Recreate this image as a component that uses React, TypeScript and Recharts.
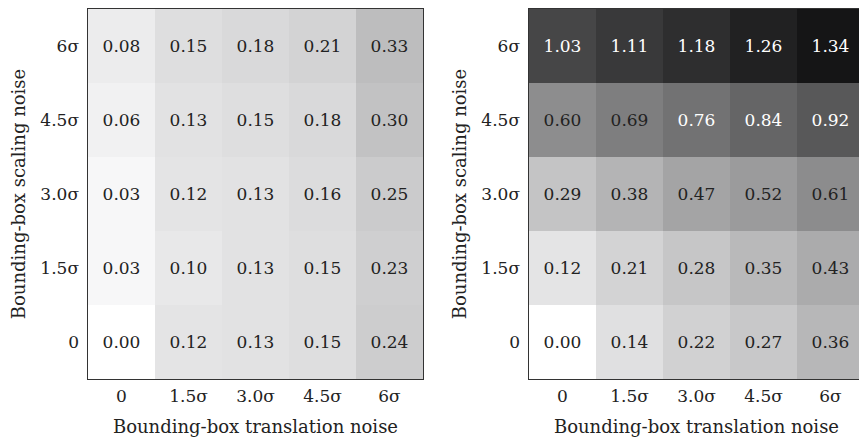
import { Bar, BarChart, Cell, LabelList, ReferenceArea, XAxis, YAxis } from 'recharts';

// noise levels (column = translation, row = scaling, bottom to top)
const translationLabels = ['0', '1.5σ', '3.0σ', '4.5σ', '6σ'];
const scalingLabels = ['0', '1.5σ', '3.0σ', '4.5σ', '6σ'];

// left panel
const leftScale0 = [0.0, 0.12, 0.13, 0.15, 0.24];
const leftScale15 = [0.03, 0.1, 0.13, 0.15, 0.23];
const leftScale30 = [0.03, 0.12, 0.13, 0.16, 0.25];
const leftScale45 = [0.06, 0.13, 0.15, 0.18, 0.3];
const leftScale6 = [0.08, 0.15, 0.18, 0.21, 0.33];

// right panel
const rightScale0 = [0.0, 0.14, 0.22, 0.27, 0.36];
const rightScale15 = [0.12, 0.21, 0.28, 0.35, 0.43];
const rightScale30 = [0.29, 0.38, 0.47, 0.52, 0.61];
const rightScale45 = [0.6, 0.69, 0.76, 0.84, 0.92];
const rightScale6 = [1.03, 1.11, 1.18, 1.26, 1.34];

const leftRows = [leftScale0, leftScale15, leftScale30, leftScale45, leftScale6];
const rightRows = [rightScale0, rightScale15, rightScale30, rightScale45, rightScale6];

const FONT = "'DejaVu Serif', serif";
const TEXT = '#222';
const BORDER = '#333';

const grayFor = (v: number) => {
  const g = Math.max(0, Math.min(255, Math.round(255 - 180 * Math.pow(v, 0.9))));
  return `rgb(${g},${g},${g + 1})`;
};

const buildData = (rows: number[][]) =>
  translationLabels.map((name, c) => {
    const entry: { [key: string]: string | number } = { name };
    rows.forEach((row, r) => {
      entry[`s${r}`] = 1;
      entry[`v${r}`] = row[c];
    });
    return entry;
  });

const CellLabel = (props: any) => {
  const { x, y, width, height, value } = props;
  const v = Number(value);
  return (
    <text
      x={Number(x) + Number(width) / 2}
      y={Number(y) + Number(height) / 2}
      textAnchor="middle"
      dominantBaseline="central"
      fontFamily={FONT}
      fontSize={17}
      fill={v > 0.72 ? '#fff' : TEXT}
    >
      {v.toFixed(2)}
    </text>
  );
};

type PanelProps = {
  rows: number[][];
  left: number;
  width: number;
};

const Panel = ({ rows, left, width }: PanelProps) => {
  const data = buildData(rows);
  const tickStyle = { fontFamily: FONT, fontSize: 17, fill: TEXT };
  const labelStyle = { fontFamily: FONT, fontSize: 18, fill: TEXT };
  return (
    <div style={{ position: 'absolute', left, top: 0 }}>
      <BarChart
        width={width}
        height={440}
        data={data}
        margin={{ top: 9, right: 7, bottom: 0, left: 0 }}
        barCategoryGap={0}
        barGap={0}
      >
        <XAxis
          dataKey="name"
          height={61}
          tickLine={false}
          tickSize={0}
          tickMargin={11}
          tick={tickStyle}
          axisLine={false}
          label={{
            value: 'Bounding-box translation noise',
            position: 'insideBottom',
            offset: 7,
            style: labelStyle,
          }}
        />
        <YAxis
          type="number"
          domain={[0, 5]}
          ticks={[0.5, 1.5, 2.5, 3.5, 4.5]}
          tickFormatter={(t: number) => scalingLabels[Math.floor(t)]}
          width={88}
          tickLine={false}
          tickSize={0}
          tickMargin={9}
          tick={tickStyle}
          axisLine={false}
          label={{
            value: 'Bounding-box scaling noise',
            angle: -90,
            position: 'center',
            dx: -25,
            style: labelStyle,
          }}
        />
        {rows.map((row, r) => (
          <Bar
            key={r}
            dataKey={`s${r}`}
            stackId="grid"
            stroke="none"
            isAnimationActive={false}
          >
            {row.map((v, c) => (
              <Cell key={c} fill={grayFor(v)} stroke="none" />
            ))}
            <LabelList dataKey={`v${r}`} content={CellLabel} />
          </Bar>
        ))}
        <ReferenceArea
          y1={0}
          y2={5}
          fill="none"
          fillOpacity={0}
          stroke={BORDER}
          strokeWidth={2}
          ifOverflow="visible"
        />
      </BarChart>
    </div>
  );
}

export default function App() {
  return (
    <div
      style={{
        position: 'fixed',
        left: 0,
        top: 0,
        width: 859,
        height: 440,
        overflow: 'hidden',
        background: '#fff',
      }}
    >
      <Panel rows={leftRows} left={0} width={430} />
      <Panel rows={rightRows} left={441} width={430} />
    </div>
  );
}
